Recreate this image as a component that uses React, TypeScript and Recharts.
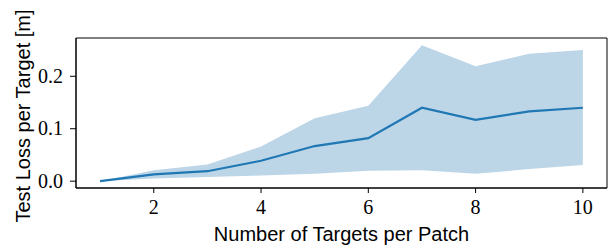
import { ComposedChart, Area, Line, XAxis, YAxis, ReferenceArea } from 'recharts'

const targets = [1, 2, 3, 4, 5, 6, 7, 8, 9, 10]
const meanLoss = [0, 0.013, 0.019, 0.039, 0.067, 0.082, 0.14, 0.117, 0.133, 0.14]
const upperLoss = [0, 0.021, 0.032, 0.066, 0.12, 0.144, 0.259, 0.219, 0.243, 0.25]
const lowerLoss = [0, 0.005, 0.008, 0.011, 0.014, 0.02, 0.021, 0.014, 0.023, 0.031]

const xTicks = [2, 4, 6, 8, 10]
const yTicks = [0, 0.1, 0.2]

const X_DOMAIN: [number, number] = [0.55, 10.45]
const Y_DOMAIN: [number, number] = [-0.013, 0.273]

const serif = '"Liberation Serif", "Times New Roman", serif'
const labelFont = '"Liberation Sans", Arial, sans-serif'

function XTick(props: any) {
  const { x, y, payload } = props
  return (
    <text x={x} y={y + 13} textAnchor="middle" fontSize={20} fontFamily={serif} fill="#000">
      {payload.value}
    </text>
  )
}

function YTick(props: any) {
  const { x, y, payload } = props
  return (
    <text x={x} y={y + 6.5} textAnchor="end" fontSize={20} fontFamily={serif} fill="#000">
      {Number(payload.value).toFixed(1)}
    </text>
  )
}

function YLabel(props: any) {
  const vb = props.viewBox ?? { x: 0, y: 0, width: 0, height: 0 }
  const cy = vb.y + vb.height / 2 + 3
  return (
    <text
      x={23}
      y={cy}
      transform={`rotate(-90, 23, ${cy})`}
      textAnchor="middle"
      dominantBaseline="central"
      fontSize={20}
      fontFamily={labelFont}
      fill="#000"
    >
      Test Loss per Target [m]
    </text>
  )
}

export default function App() {
  const data = targets.map((t, i) => ({
    n: t,
    mean: meanLoss[i],
    band: [lowerLoss[i], upperLoss[i]],
  }))

  return (
    <div style={{ position: 'absolute', left: 0, top: 0, background: '#fff' }}>
      <ComposedChart width={609} height={246} data={data} margin={{ top: 38, right: 2, left: 0, bottom: 0 }}>
        <XAxis
          dataKey="n"
          type="number"
          domain={X_DOMAIN}
          ticks={xTicks}
          allowDataOverflow
          height={58}
          tickSize={5}
          tickMargin={8}
          tick={<XTick />}
          axisLine={{ stroke: '#000' }}
          tickLine={{ stroke: '#000' }}
          label={{
            value: 'Number of Targets per Patch',
            position: 'insideBottom',
            offset: 5,
            style: { fontSize: 20, fontFamily: labelFont, fill: '#000' },
          }}
        />
        <YAxis
          type="number"
          domain={Y_DOMAIN}
          ticks={yTicks}
          allowDataOverflow
          width={76}
          tickSize={6}
          tickMargin={7}
          tick={<YTick />}
          axisLine={{ stroke: '#000' }}
          tickLine={{ stroke: '#000' }}
          label={<YLabel />}
        />
        <Area
          dataKey="band"
          type="linear"
          fill="#bcd6e8"
          fillOpacity={1}
          stroke="none"
          isAnimationActive={false}
          activeDot={false}
        />
        <Line
          dataKey="mean"
          type="linear"
          stroke="#1f77b4"
          strokeWidth={2.2}
          dot={false}
          activeDot={false}
          isAnimationActive={false}
        />
        <ReferenceArea
          x1={X_DOMAIN[0]}
          x2={X_DOMAIN[1]}
          y1={Y_DOMAIN[0]}
          y2={Y_DOMAIN[1]}
          fill="none"
          stroke="#000"
          strokeWidth={1}
        />
      </ComposedChart>
    </div>
  )
}
